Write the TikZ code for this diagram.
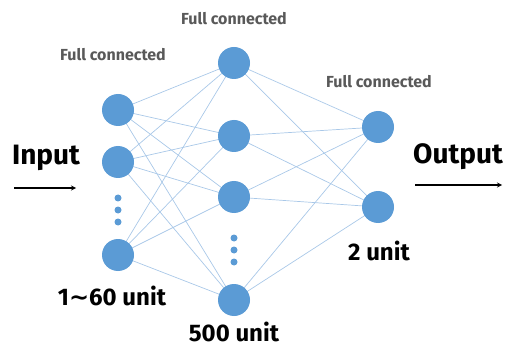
\documentclass[tikz,border=0pt]{standalone}
\usepackage{fontspec}
\setmainfont{Fira Sans}
\newfontfamily\symfont{DejaVu Sans}
\definecolor{nodeblue}{HTML}{5B9BD5}
\definecolor{edgeblue}{HTML}{A9C8E8}
\definecolor{labgray}{HTML}{595959}
\begin{document}
\begin{tikzpicture}[x=1pt,y=-1pt,
  neuron/.style={circle,fill=nodeblue,minimum size=32pt,inner sep=0pt},
  dotn/.style={circle,fill=nodeblue,minimum size=7pt,inner sep=0pt},
  edge/.style={draw=edgeblue,line width=0.7pt},
  fclabel/.style={text=labgray,font=\bfseries\fontsize{16}{19}\selectfont},
  biglabel/.style={font=\bfseries\fontsize{28}{32}\selectfont},
  unitlabel/.style={font=\bfseries\fontsize{24}{28}\selectfont},
  arr/.style={draw=black,line width=1.2pt,-stealth}]
\useasboundingbox (0,0) rectangle (505,347);
% edges first
\coordinate (pa1) at (118,110);
\coordinate (pa2) at (118,162);
\coordinate (pa3) at (118,255);
\coordinate (pb1) at (234,63);
\coordinate (pb2) at (234,136);
\coordinate (pb3) at (234,197);
\coordinate (pb4) at (234,300);
\coordinate (pc1) at (378,127);
\coordinate (pc2) at (378,207);
\foreach \i in {pa1,pa2,pa3}{\foreach \j in {pb1,pb2,pb3,pb4}{\draw[edge] (\i) -- (\j);}}
\foreach \i in {pb1,pb2,pb3,pb4}{\foreach \j in {pc1,pc2}{\draw[edge] (\i) -- (\j);}}
% layer 1
\node[neuron] (a1) at (pa1) {};
\node[neuron] (a2) at (pa2) {};
\node[neuron] (a3) at (pa3) {};
\node[dotn] (ad1) at (118,198) {};
\node[dotn] (ad2) at (118,210) {};
\node[dotn] (ad3) at (118,222) {};
% layer 2
\node[neuron] (b1) at (pb1) {};
\node[neuron] (b2) at (pb2) {};
\node[neuron] (b3) at (pb3) {};
\node[neuron] (b4) at (pb4) {};
\node[dotn] (bd1) at (234,238) {};
\node[dotn] (bd2) at (234,250) {};
\node[dotn] (bd3) at (234,262) {};
% layer 3
\node[neuron] (c1) at (pc1) {};
\node[neuron] (c2) at (pc2) {};
% labels
\node[fclabel] (fc1) at (113,55) {Full connected};
\node[fclabel] (fc2) at (234,19) {Full connected};
\node[fclabel] (fc3) at (379,82) {Full connected};
\node[biglabel] (inp) at (46,158) {Input};
\node[biglabel] (outp) at (458,157) {Output};
\node[unitlabel] (u1) at (112,296) {1{\symfont\bfseries ∼}60 unit};
\node[unitlabel] (u2) at (234,332) {500 unit};
\node[unitlabel] (u3) at (379,251) {2 unit};
% arrows
\coordinate (is) at (14,188);
\coordinate (ie) at (76,188);
\coordinate (os) at (415,185);
\coordinate (oe) at (502,185);
\draw[arr] (is) -- (ie);
\draw[arr] (os) -- (oe);
\end{tikzpicture}
\end{document}
